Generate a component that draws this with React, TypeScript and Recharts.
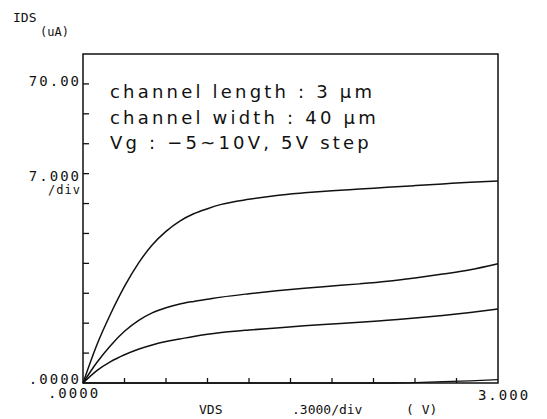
import React from 'react';
import { LineChart, Line, XAxis, YAxis, ReferenceArea } from 'recharts';

// drain voltage VDS (V)
const vds = [0, 0.1, 0.2, 0.3, 0.4, 0.5, 0.6, 0.7, 0.8, 0.9, 1.0, 1.2, 1.4, 1.6, 1.8, 2.0, 2.2, 2.4, 2.6, 2.8, 3.0];
// drain current IDS (uA) for each gate step
const idsVg10 = [0, 8.9, 16.2, 22.6, 28.0, 32.3, 35.5, 37.9, 39.6, 40.8, 41.8, 43.0, 43.9, 44.5, 45.0, 45.4, 45.8, 46.2, 46.6, 47.0, 47.3];
const idsVg5 = [0, 4.8, 8.8, 12.1, 14.6, 16.4, 17.6, 18.5, 19.1, 19.6, 20.1, 20.9, 21.6, 22.2, 22.7, 23.2, 23.8, 24.6, 25.5, 26.5, 27.9];
const idsVg0 = [0, 2.9, 5.0, 6.6, 7.9, 8.9, 9.7, 10.3, 10.9, 11.4, 11.8, 12.4, 12.9, 13.4, 13.8, 14.2, 14.7, 15.2, 15.8, 16.5, 17.3];
const idsVgm5 = [0, 0, 0, 0, 0, 0, 0, 0, 0, 0, 0, 0, 0, 0, 0, 0, 0, 0.1, 0.3, 0.5, 0.8];

const xTicks = [0, 0.3, 0.6, 0.9, 1.2, 1.5, 1.8, 2.1, 2.4, 2.7, 3.0];
const yTicks = [0, 7, 14, 21, 28, 35, 42, 49, 56, 63, 70];

const data = vds.map((v, i) => ({
  vds: v,
  vg10: idsVg10[i],
  vg5: idsVg5[i],
  vg0: idsVg0[i],
  vgm5: idsVgm5[i],
}));

const INK = '#111';
const mono = { fontFamily: '"DejaVu Sans Mono", monospace', fontSize: 14, fill: INK };

const XTick = (props: any) => {
  const { x, y, payload } = props;
  const v = payload.value;
  if (v === 0) {
    return <text x={x - 9} y={y + 15} textAnchor="middle" letterSpacing={2} {...mono}>.0000</text>;
  }
  if (v === 3) {
    return <text x={x + 6} y={y + 17} textAnchor="middle" letterSpacing={2} {...mono}>3.000</text>;
  }
  return <line x1={x} x2={x} y1={y} y2={y - 5} stroke={INK} strokeWidth={1.3} />;
};

const YTick = (props: any) => {
  const { x, y, payload } = props;
  const v = payload.value;
  const tick = <line x1={x} x2={x + 6} y1={y} y2={y} stroke={INK} strokeWidth={1.3} />;
  if (v === 70) {
    return (
      <g>
        {tick}
        <text x={x - 2} y={y + 2} textAnchor="end" letterSpacing={2} {...mono}>70.00</text>
      </g>
    );
  }
  if (v === 49) {
    return (
      <g>
        {tick}
        <text x={x - 2} y={y + 7} textAnchor="end" letterSpacing={2} {...mono}>7.000</text>
        <text x={x - 2} y={y + 20} textAnchor="end" letterSpacing={1} {...mono} fontSize={12}>/div</text>
      </g>
    );
  }
  if (v === 0) {
    return <text x={x - 2} y={y + 1} textAnchor="end" letterSpacing={2} {...mono}>.0000</text>;
  }
  return tick;
};

export default function App() {
  return (
    <div style={{ position: 'absolute', left: 0, top: 0, width: 547, height: 419, background: '#fff' }}>
      <LineChart width={547} height={419} data={data} margin={{ top: 54, right: 49, bottom: 0, left: 0 }}>
        <XAxis
          dataKey="vds"
          type="number"
          domain={[0, 3]}
          ticks={xTicks}
          interval={0}
          height={36}
          tickSize={0}
          tickMargin={0}
          axisLine={false}
          tickLine={false}
          tick={<XTick />}
        />
        <YAxis
          type="number"
          domain={[0, 77]}
          ticks={yTicks}
          interval={0}
          width={83}
          tickSize={0}
          tickMargin={0}
          axisLine={false}
          tickLine={false}
          tick={<YTick />}
        />
        <ReferenceArea x1={0} x2={3} y1={0} y2={77} fill="none" stroke={INK} strokeWidth={1.5} ifOverflow="visible" />
        <Line type="monotone" dataKey="vg10" stroke={INK} strokeWidth={1.5} dot={false} isAnimationActive={false} />
        <Line type="monotone" dataKey="vg5" stroke={INK} strokeWidth={1.5} dot={false} isAnimationActive={false} />
        <Line type="monotone" dataKey="vg0" stroke={INK} strokeWidth={1.5} dot={false} isAnimationActive={false} />
        <Line type="monotone" dataKey="vgm5" stroke={INK} strokeWidth={1.3} dot={false} isAnimationActive={false} />
      </LineChart>
      <svg width={547} height={419} style={{ position: 'absolute', left: 0, top: 0, pointerEvents: 'none' }}>
        <text x={13} y={22} {...mono} fontSize={13}>IDS</text>
        <text x={40} y={36} {...mono} fontSize={12}>(uA)</text>
        <text x={199} y={414} {...mono} fontSize={13}>VDS</text>
        <text x={292} y={414} {...mono} fontSize={13}>.3000/div</text>
        <text x={406} y={414} {...mono} fontSize={13}>( V)</text>
        <g fontFamily='"DejaVu Sans", sans-serif' fontSize={18} fill={INK} letterSpacing={3.2}>
          <text x={110} y={98}>channel length : 3 μm</text>
          <text x={110} y={124}>channel width : 40 μm</text>
          <text x={110} y={149}>Vg : −5~10V, 5V step</text>
        </g>
      </svg>
    </div>
  );
}
